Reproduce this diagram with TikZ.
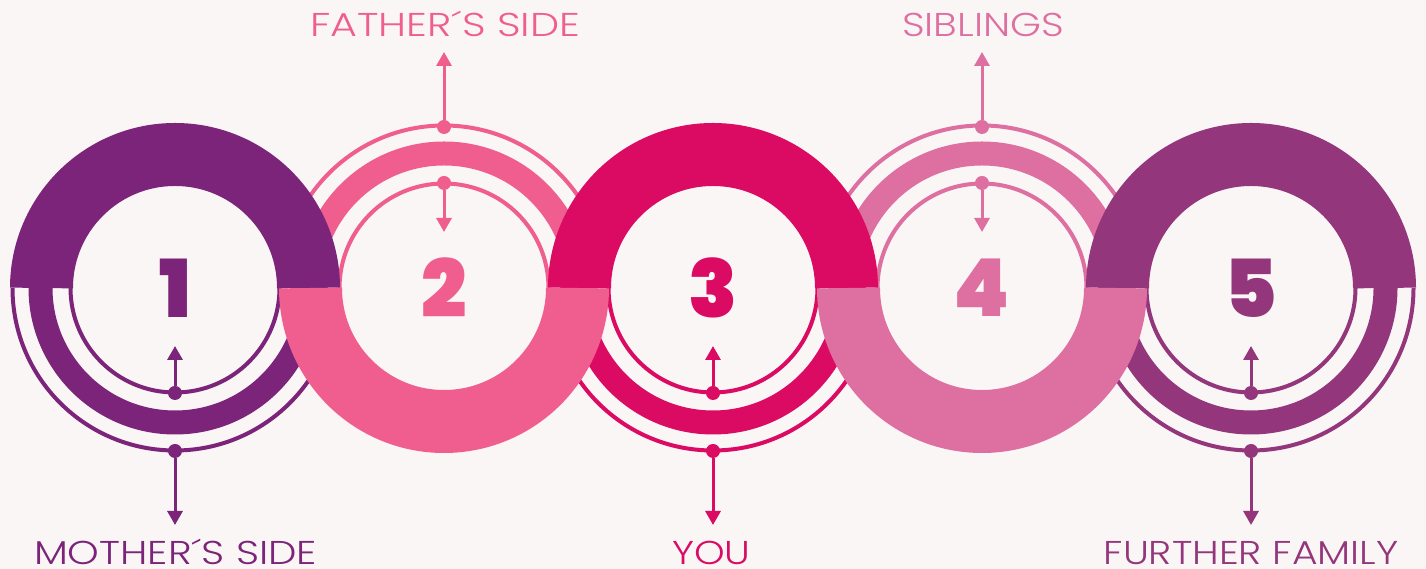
\documentclass[tikz,border=0pt]{standalone}
\usepackage{fontspec}
\usetikzlibrary{arrows.meta}
\IfFontExistsTF{Poppins Light}{\newfontfamily\labfont{Poppins Light}}{\newfontfamily\labfont{Poppins}}
\IfFontExistsTF{Poppins Black}{\newfontfamily\numfont{Poppins Black}}{\newfontfamily\numfont{Poppins}[UprightFont={* Bold}]}
\definecolor{bg}{HTML}{FAF6F5}
\definecolor{cA}{HTML}{7B2479}
\definecolor{cB}{HTML}{F05D8F}
\definecolor{cC}{HTML}{DB0A63}
\definecolor{cD}{HTML}{DE6FA1}
\definecolor{cE}{HTML}{93367C}
\newcommand\wide[2]{\scalebox{#1}[1]{#2}}
\tikzset{
  thinarc/.style={line width=4pt},
  bandarc/.style={line width=24pt},
  thickarc/.style={line width=63pt},
  dot/.style={circle, inner sep=0pt, minimum size=14pt},
  conn/.style={line width=3pt, -{Triangle[width=15pt,length=14pt]}},
  lab/.style={inner sep=0pt, font=\labfont\fontsize{33}{33}\selectfont},
  num/.style={inner sep=0pt, font=\numfont\fontsize{80}{80}\selectfont}
}
\begin{document}
\begin{tikzpicture}[x=1pt,y=1pt]
\fill[bg] (0,0) rectangle (1426,569);
\useasboundingbox (0,0) rectangle (1426,569);
% thin halves (behind)
\foreach \cx/\col/\s in {175/cA/180, 713/cC/180, 1251/cE/180, 444/cB/0, 982/cD/0}{
  \draw[\col, thinarc] (\cx,281) ++(\s:162.5pt) arc[start angle=\s, delta angle=180, radius=162.5pt];
  \draw[\col, bandarc] (\cx,281) ++(\s:134.5pt) arc[start angle=\s, delta angle=180, radius=134.5pt];
  \draw[\col, thinarc] (\cx,281) ++(\s:104.5pt) arc[start angle=\s, delta angle=180, radius=104.5pt];
}
% thick halves (front)
\foreach \cx/\col/\s in {175/cA/0, 713/cC/0, 1251/cE/0, 444/cB/180, 982/cD/180}{
  \draw[\col, thickarc] (\cx,281) ++(\s:133.5pt) arc[start angle=\s, delta angle=180, radius=133.5pt];
}
% numbers
\node[num, text=cA] (n1) at (175,281) {1};
\node[num, text=cB] (n2) at (444,281) {2};
\node[num, text=cC] (n3) at (713,281) {3};
\node[num, text=cD] (n4) at (982,281) {4};
\node[num, text=cE] (n5) at (1251,281) {5};
% dots
\node[dot, fill=cA] (o1) at (175,118) {};
\node[dot, fill=cA] (i1) at (175,176) {};
\node[dot, fill=cB] (o2) at (444,442) {};
\node[dot, fill=cB] (i2) at (444,386) {};
\node[dot, fill=cC] (o3) at (713,118) {};
\node[dot, fill=cC] (i3) at (713,176) {};
\node[dot, fill=cD] (o4) at (982,442) {};
\node[dot, fill=cD] (i4) at (982,386) {};
\node[dot, fill=cE] (o5) at (1251,118) {};
\node[dot, fill=cE] (i5) at (1251,176) {};
% arrow ends
\coordinate (a1o) at (175,44);  \coordinate (a1i) at (175,223);
\coordinate (a2o) at (444,517); \coordinate (a2i) at (444,337);
\coordinate (a3o) at (713,44);  \coordinate (a3i) at (713,223);
\coordinate (a4o) at (982,517); \coordinate (a4i) at (982,337);
\coordinate (a5o) at (1251,44); \coordinate (a5i) at (1251,223);
\draw[conn, cA] (o1) -- (a1o); \draw[conn, cA] (i1) -- (a1i);
\draw[conn, cB] (o2) -- (a2o); \draw[conn, cB] (i2) -- (a2i);
\draw[conn, cC] (o3) -- (a3o); \draw[conn, cC] (i3) -- (a3i);
\draw[conn, cD] (o4) -- (a4o); \draw[conn, cD] (i4) -- (a4i);
\draw[conn, cE] (o5) -- (a5o); \draw[conn, cE] (i5) -- (a5i);
% labels
\node[lab, text=cA, anchor=base] (l1) at (175.5,4) {\wide{1.22}{MOTHER´S SIDE}};
\node[lab, text=cB, anchor=base] (l2) at (445,532) {\wide{1.25}{FATHER´S SIDE}};
\node[lab, text=cC, anchor=base] (l3) at (711.5,4) {\wide{1.18}{YOU}};
\node[lab, text=cD, anchor=base] (l4) at (983,532) {\wide{1.2}{SIBLINGS}};
\node[lab, text=cE, anchor=base] (l5) at (1251,4) {\wide{1.19}{FURTHER FAMILY}};
\end{tikzpicture}
\end{document}
